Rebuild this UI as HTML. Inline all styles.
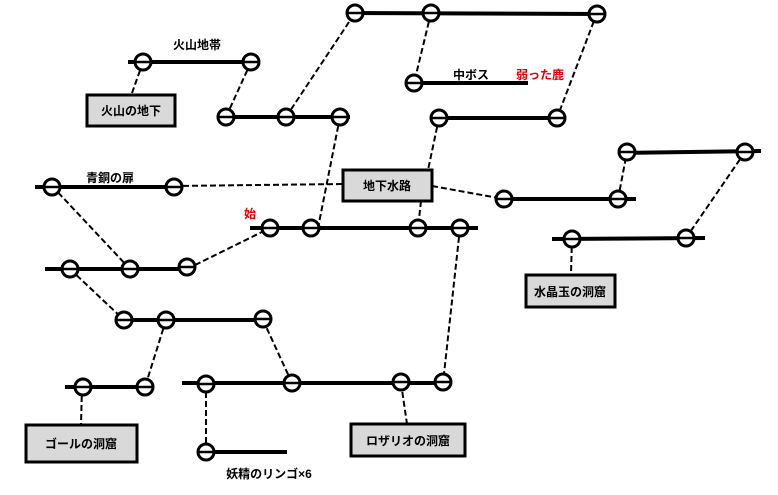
<!DOCTYPE html>
<html><head><meta charset="utf-8"><style>
html,body{margin:0;padding:0;background:#fff;}
svg{display:block;}
text{font-family:"Liberation Sans","Noto Sans CJK JP",sans-serif;font-weight:bold;font-size:12px;}
</style></head><body>
<svg width="778" height="495" viewBox="0 0 778 495" xmlns="http://www.w3.org/2000/svg">
<g stroke="#000" stroke-width="2" stroke-dasharray="6,3" fill="none">
<line x1="143" y1="62" x2="132" y2="93"/>
<line x1="251" y1="62" x2="226" y2="117"/>
<line x1="286" y1="117" x2="355" y2="13"/>
<line x1="431" y1="13" x2="414" y2="83"/>
<line x1="597" y1="13" x2="557" y2="118"/>
<line x1="340" y1="117" x2="318" y2="228"/>
<line x1="174" y1="186" x2="343" y2="184"/>
<line x1="439" y1="118" x2="428" y2="170"/>
<line x1="432" y1="186" x2="504" y2="199"/>
<line x1="421" y1="201" x2="418" y2="228"/>
<line x1="618" y1="199" x2="627" y2="152"/>
<line x1="745" y1="152" x2="686" y2="238"/>
<line x1="52" y1="186" x2="130" y2="269"/>
<line x1="187" y1="269" x2="270" y2="228"/>
<line x1="70" y1="269" x2="124" y2="320"/>
<line x1="166" y1="320" x2="145" y2="387"/>
<line x1="263" y1="320" x2="292" y2="383"/>
<line x1="460" y1="228" x2="443" y2="383"/>
<line x1="82" y1="387" x2="81" y2="424"/>
<line x1="206" y1="383" x2="206" y2="452"/>
<line x1="401" y1="383" x2="407" y2="424"/>
<line x1="572" y1="238" x2="571" y2="274"/>
</g>
<g stroke="#000" stroke-width="4">
<line x1="350" y1="13" x2="602" y2="14"/>
<line x1="128" y1="62" x2="256" y2="62"/>
<line x1="220" y1="117" x2="350" y2="117"/>
<line x1="408" y1="83" x2="528" y2="83"/>
<line x1="432" y1="118" x2="562" y2="118"/>
<line x1="35" y1="187" x2="182" y2="187"/>
<line x1="497" y1="199" x2="636" y2="199"/>
<line x1="620" y1="153" x2="761" y2="151"/>
<line x1="552" y1="239" x2="705" y2="238"/>
<line x1="250" y1="228" x2="478" y2="228"/>
<line x1="45" y1="269" x2="195" y2="269"/>
<line x1="115" y1="320" x2="272" y2="320"/>
<line x1="65" y1="387" x2="153" y2="387"/>
<line x1="182" y1="383" x2="452" y2="383"/>
<line x1="198" y1="452" x2="287" y2="452"/>
</g>
<g stroke="#000" stroke-width="3" fill="#fff">
<circle cx="355" cy="13" r="8"/><circle cx="431" cy="13" r="8"/><circle cx="597" cy="14" r="8"/>
<circle cx="143" cy="62" r="8"/><circle cx="251" cy="62" r="8"/>
<circle cx="226" cy="117" r="8"/><circle cx="286" cy="117" r="8"/><circle cx="340" cy="117" r="8"/>
<circle cx="414" cy="83" r="8"/>
<circle cx="439" cy="118" r="8"/><circle cx="557" cy="118" r="8"/>
<circle cx="52" cy="187" r="8"/><circle cx="174" cy="187" r="8"/>
<circle cx="504" cy="199" r="8"/><circle cx="618" cy="199" r="8"/>
<circle cx="627" cy="152" r="8"/><circle cx="745" cy="152" r="8"/>
<circle cx="572" cy="239" r="8"/><circle cx="686" cy="238" r="8"/>
<circle cx="270" cy="228" r="8"/><circle cx="311" cy="228" r="8"/><circle cx="418" cy="228" r="8"/><circle cx="460" cy="228" r="8"/>
<circle cx="70" cy="269" r="8"/><circle cx="130" cy="269" r="8"/><circle cx="187" cy="267" r="8"/>
<circle cx="124" cy="320" r="8"/><circle cx="166" cy="320" r="8"/><circle cx="263" cy="319" r="8"/>
<circle cx="83" cy="387" r="8"/><circle cx="145" cy="387" r="8"/>
<circle cx="206" cy="384" r="8"/><circle cx="292" cy="383" r="8"/><circle cx="401" cy="382" r="8"/><circle cx="443" cy="382" r="8"/>
<circle cx="206" cy="452" r="8"/>
</g>
<g stroke="#000" stroke-width="2.5">
<line x1="347" y1="13" x2="363" y2="13"/><line x1="423" y1="13" x2="439" y2="13"/><line x1="589" y1="14" x2="605" y2="14"/>
<line x1="135" y1="62" x2="151" y2="62"/><line x1="243" y1="62" x2="259" y2="62"/>
<line x1="218" y1="117" x2="234" y2="117"/><line x1="278" y1="117" x2="294" y2="117"/><line x1="332" y1="117" x2="348" y2="117"/>
<line x1="406" y1="83" x2="422" y2="83"/>
<line x1="431" y1="118" x2="447" y2="118"/><line x1="549" y1="118" x2="565" y2="118"/>
<line x1="44" y1="187" x2="60" y2="187"/><line x1="166" y1="187" x2="182" y2="187"/>
<line x1="496" y1="199" x2="512" y2="199"/><line x1="610" y1="199" x2="626" y2="199"/>
<line x1="619" y1="152" x2="635" y2="152"/><line x1="737" y1="152" x2="753" y2="152"/>
<line x1="564" y1="239" x2="580" y2="239"/><line x1="678" y1="238" x2="694" y2="238"/>
<line x1="262" y1="228" x2="278" y2="228"/><line x1="303" y1="228" x2="319" y2="228"/><line x1="410" y1="228" x2="426" y2="228"/><line x1="452" y1="228" x2="468" y2="228"/>
<line x1="62" y1="269" x2="78" y2="269"/><line x1="122" y1="269" x2="138" y2="269"/><line x1="179" y1="267" x2="195" y2="267"/>
<line x1="116" y1="320" x2="132" y2="320"/><line x1="158" y1="320" x2="174" y2="320"/><line x1="255" y1="319" x2="271" y2="319"/>
<line x1="75" y1="387" x2="91" y2="387"/><line x1="137" y1="387" x2="153" y2="387"/>
<line x1="198" y1="384" x2="214" y2="384"/><line x1="284" y1="383" x2="300" y2="383"/><line x1="393" y1="382" x2="409" y2="382"/><line x1="435" y1="382" x2="451" y2="382"/>
<line x1="198" y1="452" x2="214" y2="452"/>
</g>
<g stroke="#000" stroke-width="3" fill="#d9d9d9">
<rect x="87" y="95" width="88" height="31"/>
<rect x="343" y="170" width="89" height="31"/>
<rect x="526" y="275" width="89" height="32"/>
<rect x="26" y="425" width="111" height="37"/>
<rect x="351" y="424" width="114" height="32"/>
</g>
<g fill="#000" text-anchor="middle">
<text x="131" y="115">火山の地下</text>
<text x="387" y="190">地下水路</text>
<text x="570" y="296">水晶玉の洞窟</text>
<text x="81" y="448">ゴールの洞窟</text>
<text x="408" y="445">ロザリオの洞窟</text>
<text x="197" y="49">火山地帯</text>
<text x="110" y="182">青銅の扉</text>
<text x="471" y="79">中ボス</text>
<text x="269" y="478">妖精のリンゴ×6</text>
</g>
<g fill="#e00000" text-anchor="middle">
<text x="540" y="79">弱った鹿</text>
<text x="250" y="218">始</text>
</g>
</svg>
</body></html>
